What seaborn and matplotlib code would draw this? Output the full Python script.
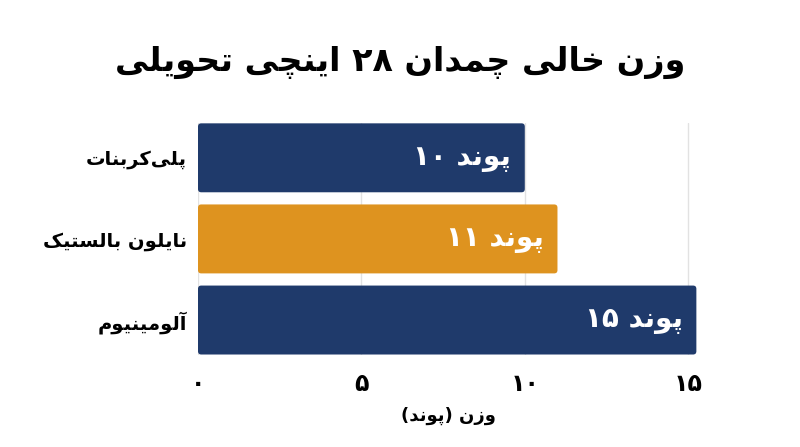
import numpy as np
import pandas as pd
import matplotlib
matplotlib.use("Agg")
import matplotlib.pyplot as plt
from matplotlib.patches import FancyBboxPatch
import seaborn as sns

# chart data (logical Persian text)
title = "وزن خالی چمدان ۲۸ اینچی تحویلی"
materials = ["پلی‌کربنات", "نایلون بالستیک", "آلومینیوم"]
weights = [10, 11, 15.25]
unit = "پوند"
x_label = "وزن (پوند)"
x_ticks = [0, 5, 10, 15]
bar_colors = ["#1f3a6b", "#de931f", "#1f3a6b"]

# simple arabic/persian shaping: (isolated, final, initial, medial)
FORMS = {
    "ا": ("\uFE8D", "\uFE8E", None, None),
    "آ": ("\uFE81", "\uFE82", None, None),
    "ب": ("\uFE8F", "\uFE90", "\uFE91", "\uFE92"),
    "پ": ("\uFB56", "\uFB57", "\uFB58", "\uFB59"),
    "ت": ("\uFE95", "\uFE96", "\uFE97", "\uFE98"),
    "ح": ("\uFEA1", "\uFEA2", "\uFEA3", "\uFEA4"),
    "خ": ("\uFEA5", "\uFEA6", "\uFEA7", "\uFEA8"),
    "چ": ("\uFB7A", "\uFB7B", "\uFB7C", "\uFB7D"),
    "د": ("\uFEA9", "\uFEAA", None, None),
    "ر": ("\uFEAD", "\uFEAE", None, None),
    "ز": ("\uFEAF", "\uFEB0", None, None),
    "س": ("\uFEB1", "\uFEB2", "\uFEB3", "\uFEB4"),
    "ک": ("\uFB8E", "\uFB8F", "\uFB90", "\uFB91"),
    "ل": ("\uFEDD", "\uFEDE", "\uFEDF", "\uFEE0"),
    "م": ("\uFEE1", "\uFEE2", "\uFEE3", "\uFEE4"),
    "ن": ("\uFEE5", "\uFEE6", "\uFEE7", "\uFEE8"),
    "و": ("\uFEED", "\uFEEE", None, None),
    "ی": ("\uFBFC", "\uFBFD", "\uFBFE", "\uFBFF"),
}
MIRROR = {"(": ")", ")": "("}


def shape_word(word):
    out = []
    for i, ch in enumerate(word):
        if ch not in FORMS:
            if ch != "\u200c":
                out.append(ch)
            continue
        prev = word[i - 1] if i > 0 else None
        nxt = word[i + 1] if i + 1 < len(word) else None
        joins_prev = prev in FORMS and FORMS[prev][2] is not None
        joins_next = nxt in FORMS and FORMS[ch][2] is not None
        iso, fin, ini, med = FORMS[ch]
        if joins_prev and joins_next:
            out.append(med)
        elif joins_prev:
            out.append(fin)
        elif joins_next:
            out.append(ini)
        else:
            out.append(iso)
    return "".join(MIRROR.get(c, c) for c in reversed(out))


def is_number(w):
    return all("\u06F0" <= c <= "\u06F9" or c.isdigit() for c in w)


def rtl(text):
    words = [w if is_number(w) else shape_word(w) for w in text.split(" ")]
    return " ".join(reversed(words))


def fa_num(v):
    return str(int(round(v))).translate(str.maketrans("0123456789", "۰۱۲۳۴۵۶۷۸۹"))


df = pd.DataFrame({"material": [rtl(m) for m in materials], "weight": weights})

sns.set_style("white")
plt.rcParams["font.family"] = ["DejaVu Sans"]
plt.rcParams["text.color"] = "black"
plt.rcParams["axes.labelcolor"] = "black"
plt.rcParams["xtick.color"] = "black"
plt.rcParams["ytick.color"] = "black"

fig = plt.figure(figsize=(8, 4.47), dpi=100)
ax = fig.add_axes([0.2475, 0.206, 0.625, 0.519])

sns.barplot(data=df, x="weight", y="material", hue="material",
            palette=bar_colors, orient="h", width=0.85, legend=False,
            saturation=1, ax=ax, zorder=2)

ax.set_xlim(0, 15.3)
ax.set_ylim(2.43, -0.43)

# swap the plain rectangles for slightly rounded ones
for p in list(ax.patches):
    x0, y0, w, h = p.get_x(), p.get_y(), p.get_width(), p.get_height()
    rb = FancyBboxPatch((x0, y0), w, h, boxstyle="round,pad=0,rounding_size=0.1",
                        mutation_aspect=0.403, facecolor=p.get_facecolor(),
                        edgecolor="none", zorder=2)
    p.remove()
    ax.add_patch(rb)

ax.set_xticks(x_ticks)
ax.set_xticklabels([fa_num(t) for t in x_ticks], fontsize=17, fontweight="bold")
ax.tick_params(axis="y", labelsize=14, length=0, pad=8)
ax.tick_params(axis="x", length=0, pad=12)
for lbl in ax.get_yticklabels():
    lbl.set_fontweight("bold")
ax.xaxis.grid(True, color="#e2e2e2", linewidth=1, zorder=0)
ax.set_axisbelow(True)
for s in ax.spines.values():
    s.set_visible(False)
ax.set_ylabel("")
ax.set_xlabel(rtl(x_label), fontsize=13, fontweight="bold", labelpad=8)

for i, v in enumerate(weights):
    ax.annotate(fa_num(v) + " " + rtl(unit), xy=(v, i), xytext=(-10, 0),
                textcoords="offset points", ha="right", va="center",
                color="white", fontsize=20, fontweight="bold")

fig.text(0.5, 0.86, rtl(title), ha="center", va="center",
         fontsize=24, fontweight="bold")

fig.savefig("out.png", dpi=100, facecolor="white")
